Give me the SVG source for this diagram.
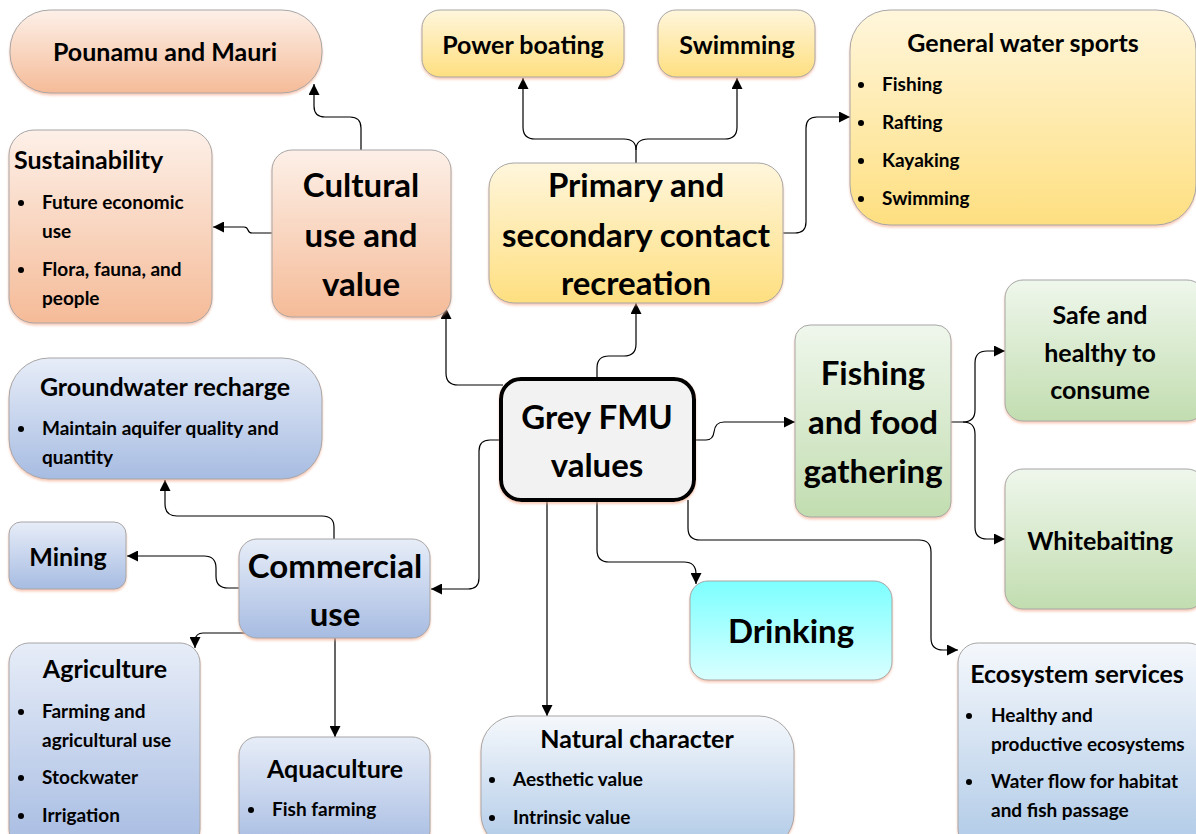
<svg xmlns="http://www.w3.org/2000/svg" width="1196" height="834" viewBox="0 0 1196 834">
<defs>
<linearGradient id="gPeach" x1="0" y1="0" x2="0" y2="1"><stop offset="0" stop-color="#fdf0e8"/><stop offset="1" stop-color="#f5bb98"/></linearGradient>
<linearGradient id="gYellow" x1="0" y1="0" x2="0" y2="1"><stop offset="0" stop-color="#fff6dc"/><stop offset="1" stop-color="#fedf80"/></linearGradient>
<linearGradient id="gBlue" x1="0" y1="0" x2="0" y2="1"><stop offset="0" stop-color="#e7edf8"/><stop offset="1" stop-color="#a7bce2"/></linearGradient>
<linearGradient id="gLBlue" x1="0" y1="0" x2="0" y2="1"><stop offset="0" stop-color="#f5f8fc"/><stop offset="1" stop-color="#b0cae7"/></linearGradient>
<linearGradient id="gGreen" x1="0" y1="0" x2="0" y2="1"><stop offset="0" stop-color="#eff7ec"/><stop offset="1" stop-color="#c2ddb0"/></linearGradient>
<linearGradient id="gCyan" x1="0" y1="0" x2="0" y2="1"><stop offset="0" stop-color="#7dffff"/><stop offset="1" stop-color="#d9ffff"/></linearGradient>
<filter id="sh" x="-5%" y="-5%" width="110%" height="115%"><feDropShadow dx="0" dy="2" stdDeviation="1" flood-color="#f2a98a" flood-opacity="0.6"/></filter>
<marker id="arr" viewBox="0 0 10 10" refX="10" refY="5" markerWidth="11" markerHeight="11" markerUnits="userSpaceOnUse" orient="auto"><path d="M0,0 L10,5 L0,10 z" fill="#000"/></marker>
<style>
.box{stroke:#a6a6a6;stroke-width:1;filter:url(#sh)}
.t{font-family:Lato,"Liberation Sans",sans-serif;font-weight:bold;fill:#000}
.c{text-anchor:middle}
.big{font-size:33px}
.mid{font-size:25px}
.sm{font-size:19px}
.con{fill:none;stroke:#000;stroke-width:1.2;marker-end:url(#arr)}
.dot{fill:#000}
</style>
</defs>
<rect width="1196" height="834" fill="#fff"/>

<g id="connectors">
<path class="con" d="M361,150 V128 Q361,117 350,117 H325 Q314,117 314,106 V84"/>
<path class="con" d="M272,233 H252 Q249,233 248,230 Q247,227 244,227 H213"/>
<path class="con" d="M503,385 H458 Q446,385 446,373 V308"/>
<path class="con" d="M597,379 V368 Q597,356 609,356 H624 Q636,356 636,344 V303"/>
<path class="con" d="M636,163 V150 Q636,139 624,139 H535 Q523,139 523,127 V78"/>
<path class="con" d="M636,150 Q636,139 648,139 H725 Q737,139 737,127 V78"/>
<path class="con" d="M783,233 H795 Q806,233 806,222 V128 Q806,117 817,117 H850"/>
<path class="con" d="M694,440 H706 Q713,440 714,432 Q715,422 724,422 H795"/>
<path class="con" d="M951,422 H963 Q975,422 975,410 V363 Q975,351 987,351 H1005"/>
<path class="con" d="M963,422 Q975,422 975,434 V527 Q975,539 987,539 H1005"/>
<path class="con" d="M501,440 H490 Q479,440 479,451 V578 Q479,589 468,589 H431"/>
<path class="con" d="M547,500 V716"/>
<path class="con" d="M597,500 V550 Q597,562 609,562 H684 Q696,562 696,574 V584"/>
<path class="con" d="M688,500 V528 Q688,540 700,540 H919 Q931,540 931,552 V638 Q931,650 943,650 H958"/>
<path class="con" d="M334,539 V527 Q334,516 322,516 H177 Q165,516 165,504 V480"/>
<path class="con" d="M239,588 H228 Q216,588 216,576 V568 Q216,556 204,556 H127"/>
<path class="con" d="M245,633 H203 Q196,633 195,640 V648"/>
<path class="con" d="M335,638 V737"/>
</g>

<g id="pounamu">
<rect class="box" x="10" y="10" width="312" height="83" rx="40" fill="url(#gPeach)"/>
<text class="t c mid" x="165" y="61">Pounamu and Mauri</text>
</g>
<g id="sustainability">
<rect class="box" x="9" y="130" width="203" height="193" rx="25" fill="url(#gPeach)"/>
<text class="t mid" x="14" y="169">Sustainability</text>
<circle class="dot" cx="21" cy="203" r="3"/>
<text class="t sm" x="42" y="209">Future economic</text>
<text class="t sm" x="42" y="238">use</text>
<circle class="dot" cx="21" cy="270" r="3"/>
<text class="t sm" x="42" y="276">Flora, fauna, and</text>
<text class="t sm" x="42" y="305">people</text>
</g>
<g id="cultural">
<rect class="box" x="272" y="150" width="179" height="167" rx="20" fill="url(#gPeach)"/>
<text class="t c big" x="361" y="197">Cultural</text>
<text class="t c big" x="361" y="247">use and</text>
<text class="t c big" x="361" y="296">value</text>
</g>
<g id="powerboating">
<rect class="box" x="422" y="10" width="202" height="67" rx="18" fill="url(#gYellow)"/>
<text class="t c mid" x="523" y="54">Power boating</text>
</g>
<g id="swimming">
<rect class="box" x="658" y="10" width="157" height="67" rx="18" fill="url(#gYellow)"/>
<text class="t c mid" x="737" y="54">Swimming</text>
</g>
<g id="primary">
<rect class="box" x="489" y="163" width="294" height="140" rx="25" fill="url(#gYellow)"/>
<text class="t c big" x="636" y="197">Primary and</text>
<text class="t c big" x="636" y="247">secondary contact</text>
<text class="t c big" x="636" y="295">recreation</text>
</g>
<g id="watersports">
<rect class="box" x="850" y="10" width="346" height="215" rx="40" fill="url(#gYellow)"/>
<text class="t c mid" x="1023" y="52">General water sports</text>
<circle class="dot" cx="861" cy="85" r="3"/>
<text class="t sm" x="882" y="91">Fishing</text>
<circle class="dot" cx="861" cy="123" r="3"/>
<text class="t sm" x="882" y="129">Rafting</text>
<circle class="dot" cx="861" cy="161" r="3"/>
<text class="t sm" x="882" y="167">Kayaking</text>
<circle class="dot" cx="861" cy="199" r="3"/>
<text class="t sm" x="882" y="205">Swimming</text>
</g>
<g id="groundwater">
<rect class="box" x="9" y="358" width="313" height="121" rx="40" fill="url(#gBlue)"/>
<text class="t c mid" x="165" y="396">Groundwater recharge</text>
<circle class="dot" cx="21" cy="429" r="3"/>
<text class="t sm" x="42" y="435">Maintain aquifer quality and</text>
<text class="t sm" x="42" y="464">quantity</text>
</g>
<g id="mining">
<rect class="box" x="9" y="522" width="117" height="67" rx="12" fill="url(#gBlue)"/>
<text class="t c mid" x="68" y="566">Mining</text>
</g>
<g id="commercial">
<rect class="box" x="239" y="539" width="191" height="99" rx="18" fill="url(#gBlue)"/>
<text class="t c big" x="335" y="578">Commercial</text>
<text class="t c big" x="335" y="626">use</text>
</g>
<g id="agriculture">
<rect class="box" x="9" y="643" width="191" height="206" rx="20" fill="url(#gBlue)"/>
<text class="t c mid" x="105" y="678">Agriculture</text>
<circle class="dot" cx="21" cy="712" r="3"/>
<text class="t sm" x="42" y="718">Farming and</text>
<text class="t sm" x="42" y="747">agricultural use</text>
<circle class="dot" cx="21" cy="778" r="3"/>
<text class="t sm" x="42" y="784">Stockwater</text>
<circle class="dot" cx="21" cy="816" r="3"/>
<text class="t sm" x="42" y="822">Irrigation</text>
</g>
<g id="aquaculture">
<rect class="box" x="239" y="737" width="191" height="112" rx="18" fill="url(#gBlue)"/>
<text class="t c mid" x="335" y="778">Aquaculture</text>
<circle class="dot" cx="251" cy="810" r="3"/>
<text class="t sm" x="272" y="816">Fish farming</text>
</g>
<g id="grey">
<rect x="501" y="379" width="193" height="121" rx="20" fill="#f2f2f2" stroke="#000" stroke-width="4" filter="url(#sh)"/>
<text class="t c big" x="597" y="429">Grey FMU</text>
<text class="t c big" x="597" y="477">values</text>
</g>
<g id="fishing">
<rect class="box" x="795" y="325" width="156" height="192" rx="15" fill="url(#gGreen)"/>
<text class="t c big" x="873" y="385">Fishing</text>
<text class="t c big" x="873" y="434">and food</text>
<text class="t c big" x="873" y="483">gathering</text>
</g>
<g id="safe">
<rect class="box" x="1005" y="280" width="200" height="141" rx="18" fill="url(#gGreen)"/>
<text class="t c mid" x="1100" y="324">Safe and</text>
<text class="t c mid" x="1100" y="362">healthy to</text>
<text class="t c mid" x="1100" y="399">consume</text>
</g>
<g id="whitebaiting">
<rect class="box" x="1005" y="469" width="200" height="140" rx="18" fill="url(#gGreen)"/>
<text class="t c mid" x="1100" y="550">Whitebaiting</text>
</g>
<g id="drinking">
<rect class="box" x="690" y="581" width="202" height="99" rx="18" fill="url(#gCyan)"/>
<text class="t c big" x="791" y="643">Drinking</text>
</g>
<g id="ecosystem">
<rect class="box" x="958" y="643" width="250" height="206" rx="20" fill="url(#gLBlue)"/>
<text class="t c mid" x="1077" y="683">Ecosystem services</text>
<circle class="dot" cx="969" cy="716" r="3"/>
<text class="t sm" x="991" y="722">Healthy and</text>
<text class="t sm" x="991" y="751">productive ecosystems</text>
<circle class="dot" cx="969" cy="782" r="3"/>
<text class="t sm" x="991" y="788">Water flow for habitat</text>
<text class="t sm" x="991" y="817">and fish passage</text>
</g>
<g id="natural">
<rect class="box" x="481" y="716" width="313" height="133" rx="35" fill="url(#gLBlue)"/>
<text class="t c mid" x="637" y="748">Natural character</text>
<circle class="dot" cx="492" cy="780" r="3"/>
<text class="t sm" x="513" y="786">Aesthetic value</text>
<circle class="dot" cx="492" cy="818" r="3"/>
<text class="t sm" x="513" y="824">Intrinsic value</text>
</g>
</svg>
